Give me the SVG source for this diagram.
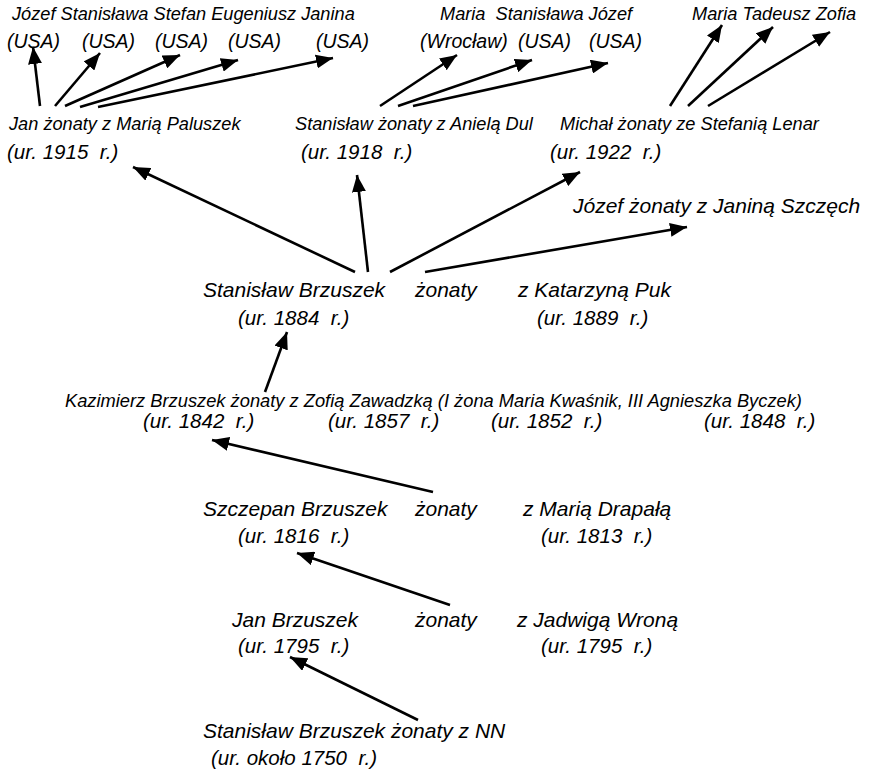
<svg xmlns="http://www.w3.org/2000/svg" width="869" height="773" viewBox="0 0 869 773">
<style>
text{font-family:"Liberation Sans",Arial,sans-serif;font-style:italic;fill:#000;white-space:pre}
.s{font-size:18.2px}
.k{font-size:18.3px}
.u{font-size:19.5px}
.m{font-size:20.5px}
.b{font-size:21px}
.c line{stroke:#000;stroke-width:2.6;marker-end:url(#ah)}
</style>
<defs>
<marker id="ah" markerUnits="userSpaceOnUse" markerWidth="18" markerHeight="14" refX="17" refY="7" orient="auto">
<path d="M0,0 L17,7 L0,14 z" fill="#000"/>
</marker>
</defs>
<rect width="869" height="773" fill="#fff"/>
<g id="children-jan">
<text class="s" x="12" y="20">Józef Stanisława Stefan Eugeniusz Janina</text>
<text class="u" x="7" y="48">(USA)</text>
<text class="u" x="82" y="48">(USA)</text>
<text class="u" x="155" y="48">(USA)</text>
<text class="u" x="228" y="48">(USA)</text>
<text class="u" x="316" y="48">(USA)</text>
</g>
<g id="children-stanislaw">
<text class="s" x="440" y="20" xml:space="preserve">Maria  Stanisława Józef</text>
<text class="u" x="420" y="48">(Wrocław)</text>
<text class="u" x="518" y="48">(USA)</text>
<text class="u" x="589" y="48">(USA)</text>
</g>
<g id="children-michal">
<text class="s" x="692" y="20">Maria Tadeusz Zofia</text>
</g>
<g id="jan">
<text class="s" x="9" y="130">Jan żonaty z Marią Paluszek</text>
<text class="m" x="7" y="159" xml:space="preserve">(ur. 1915  r.)</text>
</g>
<g id="stanislaw">
<text class="s" x="295" y="130">Stanisław żonaty z Anielą Dul</text>
<text class="m" x="301" y="159" xml:space="preserve">(ur. 1918  r.)</text>
</g>
<g id="michal">
<text class="s" x="560" y="130">Michał żonaty ze Stefanią Lenar</text>
<text class="m" x="550" y="159" xml:space="preserve">(ur. 1922  r.)</text>
</g>
<g id="jozef">
<text class="b" x="573" y="213">Józef żonaty z Janiną Szczęch</text>
</g>
<g id="stanislaw-brzuszek">
<text class="b" x="203" y="297">Stanisław Brzuszek</text>
<text class="b" x="415" y="297">żonaty</text>
<text class="b" x="518" y="297">z Katarzyną Puk</text>
<text class="m" x="238" y="325" xml:space="preserve">(ur. 1884  r.)</text>
<text class="m" x="537" y="325" xml:space="preserve">(ur. 1889  r.)</text>
</g>
<g id="kazimierz">
<text class="k" x="65" y="407">Kazimierz Brzuszek żonaty z Zofią Zawadzką (I żona Maria Kwaśnik, III Agnieszka Byczek)</text>
<text class="m" x="143" y="428" xml:space="preserve">(ur. 1842  r.)</text>
<text class="m" x="328" y="428" xml:space="preserve">(ur. 1857  r.)</text>
<text class="m" x="491" y="428" xml:space="preserve">(ur. 1852  r.)</text>
<text class="m" x="704" y="428" xml:space="preserve">(ur. 1848  r.)</text>
</g>
<g id="szczepan">
<text class="b" x="203" y="516">Szczepan Brzuszek</text>
<text class="b" x="415" y="516">żonaty</text>
<text class="b" x="523" y="516">z Marią Drapałą</text>
<text class="m" x="238" y="543" xml:space="preserve">(ur. 1816  r.)</text>
<text class="m" x="541" y="543" xml:space="preserve">(ur. 1813  r.)</text>
</g>
<g id="jan-brzuszek">
<text class="b" x="232" y="627">Jan Brzuszek</text>
<text class="b" x="415" y="627">żonaty</text>
<text class="b" x="517" y="627">z Jadwigą Wroną</text>
<text class="m" x="238" y="653" xml:space="preserve">(ur. 1795  r.)</text>
<text class="m" x="541" y="653" xml:space="preserve">(ur. 1795  r.)</text>
</g>
<g id="stanislaw-nn">
<text class="b" x="203" y="738">Stanisław Brzuszek żonaty z NN</text>
<text class="m" x="211" y="765" xml:space="preserve">(ur. około 1750  r.)</text>
</g>
<g id="connectors" class="c">
<line x1="40" y1="106" x2="33" y2="47"/>
<line x1="55" y1="106" x2="100" y2="53"/>
<line x1="65" y1="106" x2="180" y2="55"/>
<line x1="80" y1="107" x2="238" y2="60"/>
<line x1="98" y1="107" x2="333" y2="58"/>
<line x1="380" y1="106" x2="457" y2="55"/>
<line x1="398" y1="106" x2="532" y2="60"/>
<line x1="413" y1="106" x2="608" y2="63"/>
<line x1="670" y1="106" x2="722" y2="25"/>
<line x1="688" y1="106" x2="773" y2="27"/>
<line x1="708" y1="106" x2="830" y2="32"/>
<line x1="355" y1="272" x2="133" y2="167"/>
<line x1="368" y1="272" x2="357" y2="175"/>
<line x1="390" y1="272" x2="580" y2="172"/>
<line x1="425" y1="272" x2="687" y2="227"/>
<line x1="265" y1="392" x2="287" y2="332"/>
<line x1="433" y1="492" x2="212" y2="440"/>
<line x1="450" y1="605" x2="297" y2="553"/>
<line x1="418" y1="720" x2="290" y2="657"/>
</g>
</svg>
